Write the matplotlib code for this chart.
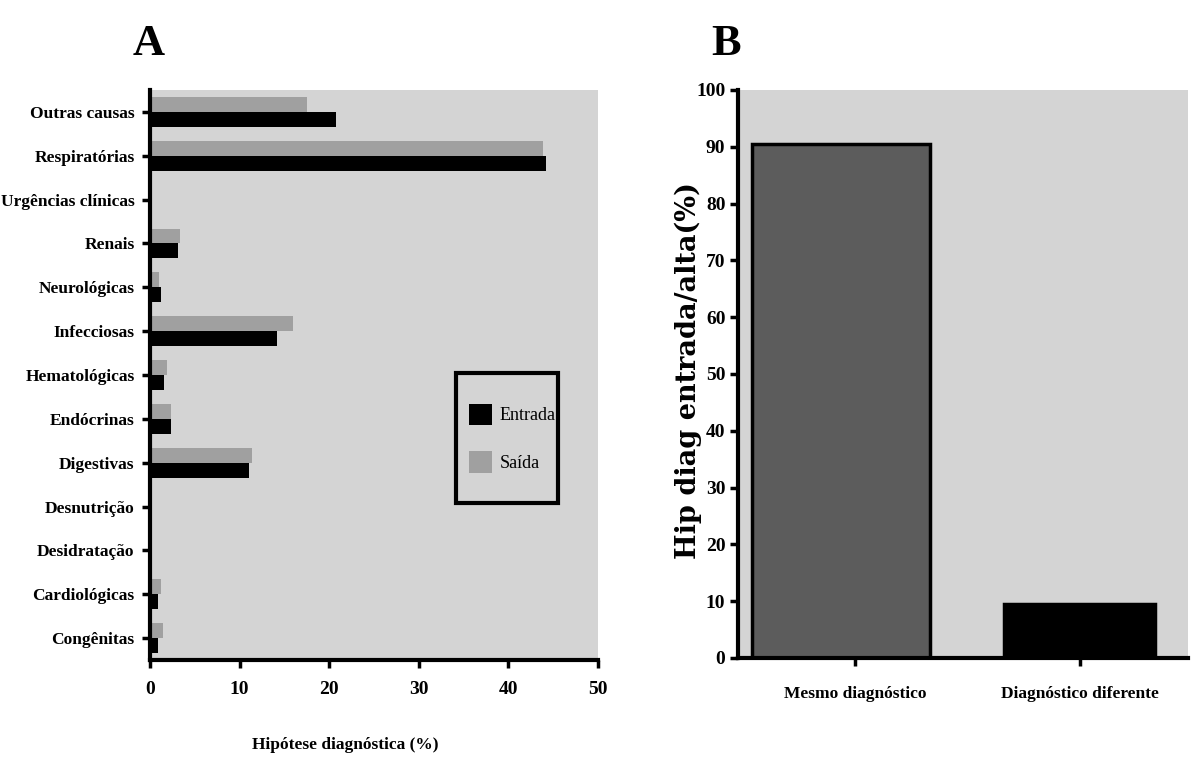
import matplotlib.pyplot as plt
from matplotlib.patches import Rectangle
import numpy as np

# --- data ---
categorias = ["Congênitas", "Cardiológicas", "Desidratação", "Desnutrição",
              "Digestivas", "Endócrinas", "Hematológicas", "Infecciosas",
              "Neurológicas", "Renais", "Urgências clínicas", "Respiratórias",
              "Outras causas"]
entrada = [0.9, 0.9, 0.2, 0.0, 11.0, 2.3, 1.6, 14.2, 1.2, 3.1, 0.0, 44.2, 20.8]
saida = [1.4, 1.2, 0.0, 0.0, 11.4, 2.3, 1.9, 16.0, 1.0, 3.3, 0.0, 43.9, 17.5]

grupos_b = ["Mesmo diagnóstico", "Diagnóstico diferente"]
valores_b = [90.5, 9.5]

plt.rcParams['font.family'] = ['Liberation Serif', 'DejaVu Serif']
plt.rcParams['font.weight'] = 'bold'

bg = '#d4d4d4'

fig = plt.figure(figsize=(11.96, 7.62), dpi=100)

# --- Panel A ---
axA = fig.add_axes([0.1254, 0.1339, 0.3746, 0.748])
axA.set_facecolor(bg)
y = np.arange(len(categorias))
h = 0.34
axA.barh(y + h / 2, saida, height=h, color='#a0a0a0', label='Saída')
axA.barh(y - h / 2, entrada, height=h, color='black', label='Entrada')
axA.set_xlim(0, 50)
axA.set_ylim(-0.5, len(categorias) - 0.5)
axA.set_xticks([0, 10, 20, 30, 40, 50])
axA.set_yticks(y)
axA.set_yticklabels(categorias, fontsize=12.5, fontweight='bold')
for lbl in axA.get_xticklabels():
    lbl.set_fontsize(14)
    lbl.set_fontweight('bold')
axA.set_xlabel("Hipótese diagnóstica (%)", fontsize=12.5, fontweight='bold')
axA.xaxis.set_label_coords(0.435, -0.136)
for s in ['top', 'right']:
    axA.spines[s].set_visible(False)
for s in ['left', 'bottom']:
    axA.spines[s].set_linewidth(3)
axA.tick_params(direction='out', length=6, width=2.5, pad=5)
axA.tick_params(axis='x', pad=9)

# legend box
axA.add_patch(Rectangle((0.683, 0.275), 0.228, 0.229, transform=axA.transAxes,
                        facecolor=bg, edgecolor='black', linewidth=3, zorder=4))
handles, labels = axA.get_legend_handles_labels()
leg = axA.legend(handles[::-1], labels[::-1], loc='center left',
                 bbox_to_anchor=(0.683 + 13 / 448, 0.389),
                 frameon=False, handlelength=1.25, handleheight=1.45,
                 labelspacing=1.45, borderpad=0, borderaxespad=0,
                 handletextpad=0.45, prop={'weight': 'normal', 'size': 13})
leg.set_zorder(5)
fig.text(0.124, 0.942, "A", fontsize=32, fontweight='bold', ha='center', va='center')

# --- Panel B ---
axB = fig.add_axes([0.617, 0.1365, 0.376, 0.7454])
axB.set_facecolor(bg)
xb = np.arange(len(grupos_b))
axB.bar(xb + np.array([-0.062, 0.0]), valores_b, width=[0.79, 0.67],
        color=['#5c5c5c', 'black'], edgecolor='black', linewidth=2.5)
axB.set_xlim(-0.52, 1.48)
axB.set_ylim(0, 100)
axB.set_yticks(range(0, 101, 10))
axB.set_xticks(xb)
axB.set_xticklabels(grupos_b, fontsize=12.5, fontweight='bold')
for lbl in axB.get_yticklabels():
    lbl.set_fontsize(14)
    lbl.set_fontweight('bold')
axB.set_ylabel("Hip diag entrada/alta(%)", fontsize=19.5, fontweight='bold',
               family=['DejaVu Serif'])
axB.yaxis.set_label_coords(-0.08, 0.507)
for s in ['top', 'right']:
    axB.spines[s].set_visible(False)
for s in ['left', 'bottom']:
    axB.spines[s].set_linewidth(3)
axB.tick_params(direction='out', length=6, width=2.5, pad=3)
axB.tick_params(axis='x', pad=14)
fig.text(0.607, 0.942, "B", fontsize=32, fontweight='bold', ha='center', va='center')

fig.savefig("out.png", dpi=100)
